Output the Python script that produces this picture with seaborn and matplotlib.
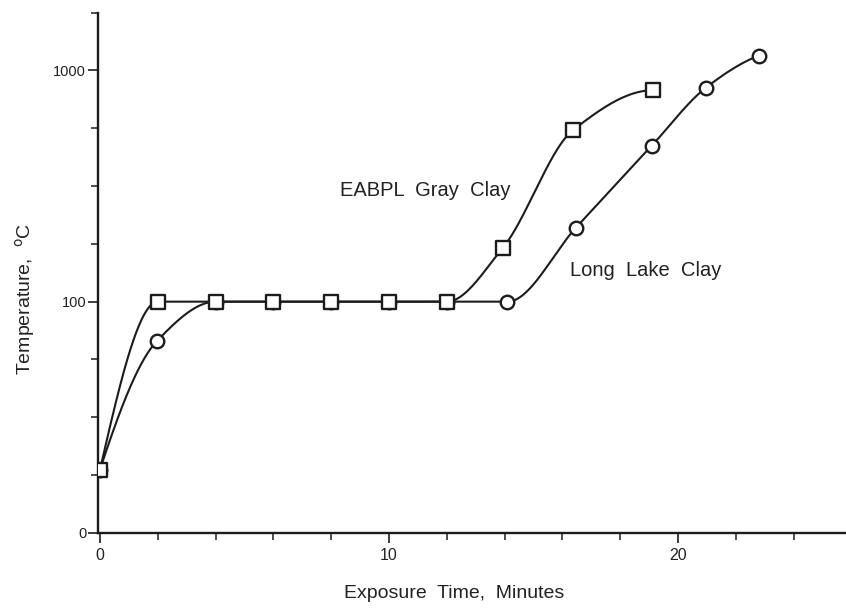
import numpy as np
import pandas as pd
import matplotlib
matplotlib.use("Agg")
import matplotlib.pyplot as plt
import seaborn as sns
from matplotlib.ticker import FixedLocator, NullFormatter

# ---- data ----
gray_time = [0, 2, 4, 6, 8, 10, 12, 13.94, 16.37, 19.13]
gray_temp = [18.8, 100, 100, 100, 100, 100, 100, 171, 552, 820]
long_time = [0, 1.97, 4, 6, 8, 10, 12, 14.1, 16.47, 19.09, 20.96, 22.81]
long_temp = [18.8, 67.6, 100, 100, 100, 100, 100, 100, 209, 472, 840, 1159]
gray_label = "EABPL  Gray  Clay"
long_label = "Long  Lake  Clay"
x_ticks = [0, 10, 20]
y_ticks = [10, 100, 1000]
y_tick_labels = ["0", "100", "1000"]


def pchip(x, y, xs):
    x = np.asarray(x, float)
    y = np.asarray(y, float)
    h = np.diff(x)
    d = np.diff(y) / h
    n = len(x)
    m = np.zeros(n)
    for k in range(1, n - 1):
        if d[k - 1] * d[k] <= 0:
            m[k] = 0.0
        else:
            w1 = 2 * h[k] + h[k - 1]
            w2 = h[k] + 2 * h[k - 1]
            m[k] = (w1 + w2) / (w1 / d[k - 1] + w2 / d[k])

    def endslope(h0, h1, d0, d1):
        s = ((2 * h0 + h1) * d0 - h0 * d1) / (h0 + h1)
        if np.sign(s) != np.sign(d0):
            s = 0.0
        elif np.sign(d0) != np.sign(d1) and abs(s) > abs(3 * d0):
            s = 3 * d0
        return s

    m[0] = endslope(h[0], h[1], d[0], d[1])
    m[-1] = endslope(h[-1], h[-2], d[-1], d[-2])
    idx = np.clip(np.searchsorted(x, xs) - 1, 0, n - 2)
    t = (xs - x[idx]) / h[idx]
    h00 = 2 * t**3 - 3 * t**2 + 1
    h10 = t**3 - 2 * t**2 + t
    h01 = -2 * t**3 + 3 * t**2
    h11 = t**3 - t**2
    return (h00 * y[idx] + h10 * h[idx] * m[idx] +
            h01 * y[idx + 1] + h11 * h[idx] * m[idx + 1])


def smooth(t, T):
    xs = np.linspace(t[0], t[-1], 600)
    ys = 10 ** pchip(t, np.log10(T), xs)
    return pd.DataFrame({"t": xs, "T": ys})


sns.set_style("ticks")
plt.rcParams["font.family"] = ["Liberation Sans", "DejaVu Sans"]

W, H = 846, 610
fig = plt.figure(figsize=(W / 100, H / 100), dpi=100)
ax = fig.add_axes([98 / W, 1 - 533 / H, (W - 98) / W, (533 - 12.5) / H])

gray_df = pd.DataFrame({"t": gray_time, "T": gray_temp})
long_df = pd.DataFrame({"t": long_time, "T": long_temp})

ink = "#1c1c1c"
sns.lineplot(data=smooth(long_time, long_temp), x="t", y="T", ax=ax,
             color=ink, linewidth=1.5, sort=False)
sns.lineplot(data=smooth(gray_time, gray_temp), x="t", y="T", ax=ax,
             color=ink, linewidth=1.5, sort=False)
sns.scatterplot(data=long_df, x="t", y="T", ax=ax, marker="o", s=95,
                facecolor="white", edgecolor=ink, linewidth=1.7, zorder=5)
sns.scatterplot(data=gray_df, x="t", y="T", ax=ax, marker="s", s=95,
                facecolor="white", edgecolor=ink, linewidth=1.7, zorder=6)

ax.set_yscale("log")
ax.set_ylim(10, 10 ** 3.25)
ax.set_xlim(-2 / 28.9, (W - 100) / 28.9)

ax.xaxis.set_major_locator(FixedLocator(x_ticks))
ax.xaxis.set_minor_locator(FixedLocator(np.arange(0, 26, 2)))
ax.set_xticklabels([str(v) for v in x_ticks])
ax.yaxis.set_major_locator(FixedLocator(y_ticks))
ax.set_yticklabels(y_tick_labels)
ax.yaxis.set_minor_locator(FixedLocator([10 ** (1 + k / 4) for k in range(1, 10) if k % 4 != 0]))
ax.yaxis.set_minor_formatter(NullFormatter())

ax.tick_params(axis="x", which="major", direction="out", length=7, width=1.2,
               color=ink, labelsize=11.5, labelcolor="#222222", pad=3.5)
ax.tick_params(axis="y", which="major", direction="out", length=7, width=1.2,
               color=ink, labelsize=10.5, labelcolor="#222222", pad=1.5)
ax.tick_params(axis="both", which="minor", direction="out", length=5, width=1.1,
               color=ink)

for s in ["top", "right"]:
    ax.spines[s].set_visible(False)
for s in ["left", "bottom"]:
    ax.spines[s].set_linewidth(1.7)
    ax.spines[s].set_color(ink)

ax.set_xlabel("Exposure  Time,  Minutes", fontsize=14, color="#222222")
ax.set_ylabel("Temperature,  $^{\\rm o}$C", fontsize=14, color="#222222")
ax_h = 533 - 12.5
ax.xaxis.set_label_coords((454 - 98) / (W - 98), (533 - 594) / ax_h)
ax.yaxis.set_label_coords((25 - 98) / (W - 98), (533 - 299) / ax_h)
ax.xaxis.label.set_va("center")
ax.yaxis.label.set_va("center")

fig.text(425 / W, 1 - 190 / H, gray_label, fontsize=14.5, color="#222222",
         ha="center", va="center")
fig.text(646 / W, 1 - 270 / H, long_label, fontsize=14.5, color="#222222",
         ha="center", va="center")

fig.savefig("out.png", dpi=100, facecolor="white")
